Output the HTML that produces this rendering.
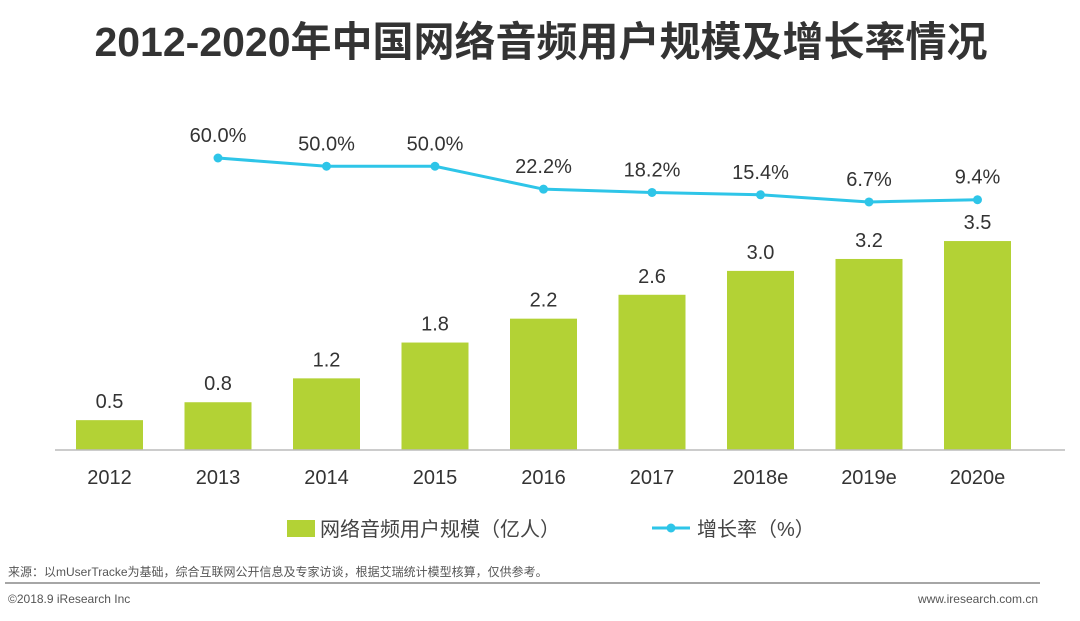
<!DOCTYPE html>
<html><head><meta charset="utf-8"><style>
body{margin:0;background:#fff;width:1080px;height:616px;overflow:hidden;font-family:"Liberation Sans","Noto Sans CJK SC",sans-serif}
</style></head><body>
<svg width="1080" height="616" xmlns="http://www.w3.org/2000/svg">
<text x="541" y="56" text-anchor="middle" font-size="41" font-weight="bold" fill="#333" font-family="Liberation Sans,Noto Sans CJK SC,sans-serif">2012-2020年中国网络音频用户规模及增长率情况</text>
<g id="bars"></g>
<line x1="55" y1="450" x2="1065" y2="450" stroke="#bbb" stroke-width="1.5"/>
<g id="line"></g>
<g font-size="20" fill="#444">
<rect x="287" y="520" width="28" height="17" fill="#b3d235"/>
<text x="320" y="536">网络音频用户规模（亿人）</text>
<line x1="652" y1="528" x2="690" y2="528" stroke="#2ec5e8" stroke-width="3"/>
<circle cx="671" cy="528" r="4.5" fill="#2ec5e8"/>
<text x="697" y="536">增长率（%）</text>
</g>
<text x="8" y="576" font-size="12" fill="#555">来源：以mUserTracke为基础，综合互联网公开信息及专家访谈，根据艾瑞统计模型核算，仅供参考。</text>
<line x1="5" y1="583" x2="1040" y2="583" stroke="#888" stroke-width="1.5"/>
<text x="8" y="603" font-size="12" fill="#555">©2018.9 iResearch Inc</text>
<text x="1038" y="603" font-size="12" fill="#555" text-anchor="end">www.iresearch.com.cn</text>
</svg>
<script>
const categories=["2012","2013","2014","2015","2016","2017","2018e","2019e","2020e"];
const users=[0.5,0.8,1.2,1.8,2.2,2.6,3.0,3.2,3.5];
const userLabels=["0.5","0.8","1.2","1.8","2.2","2.6","3.0","3.2","3.5"];
const growth=[null,60.0,50.0,50.0,22.2,18.2,15.4,6.7,9.4];
const growthLabels=["","60.0%","50.0%","50.0%","22.2%","18.2%","15.4%","6.7%","9.4%"];
const NS="http://www.w3.org/2000/svg";
const xc=i=>109.5+i*108.5;
const yb=v=>450-v*59.7;
const yl=v=>207.5-v*0.825;
const bars=document.getElementById('bars'),line=document.getElementById('line');
function mk(t,a,p){const e=document.createElementNS(NS,t);for(const k in a)e.setAttribute(k,a[k]);p.appendChild(e);return e;}
categories.forEach((c,i)=>{
 const r=mk('rect',{x:xc(i)-33.5,y:yb(users[i]),width:67,height:450-yb(users[i]),fill:'#b3d235'},bars);
 
 
 const t=mk('text',{x:xc(i),y:yb(users[i])-12,'text-anchor':'middle','font-size':20,fill:'#333'},bars);t.textContent=userLabels[i];
 
 
 const xl=mk('text',{x:xc(i),y:484,'text-anchor':'middle','font-size':20,fill:'#333'},bars);xl.textContent=c;
 
 
});
let pts=[];growth.forEach((g,i)=>{if(g!==null)pts.push(xc(i)+','+yl(g));});
const pl=mk('polyline',{points:pts.join(' '),fill:'none',stroke:'#2ec5e8','stroke-width':3},line);


growth.forEach((g,i)=>{if(g===null)return;
 const c=mk('circle',{cx:xc(i),cy:yl(g),r:4.5,fill:'#2ec5e8'},line);
 
 
 const t=mk('text',{x:xc(i),y:yl(g)-16,'text-anchor':'middle','font-size':20,fill:'#333'},line);t.textContent=growthLabels[i];
 
 
});
</script>
</body></html>
